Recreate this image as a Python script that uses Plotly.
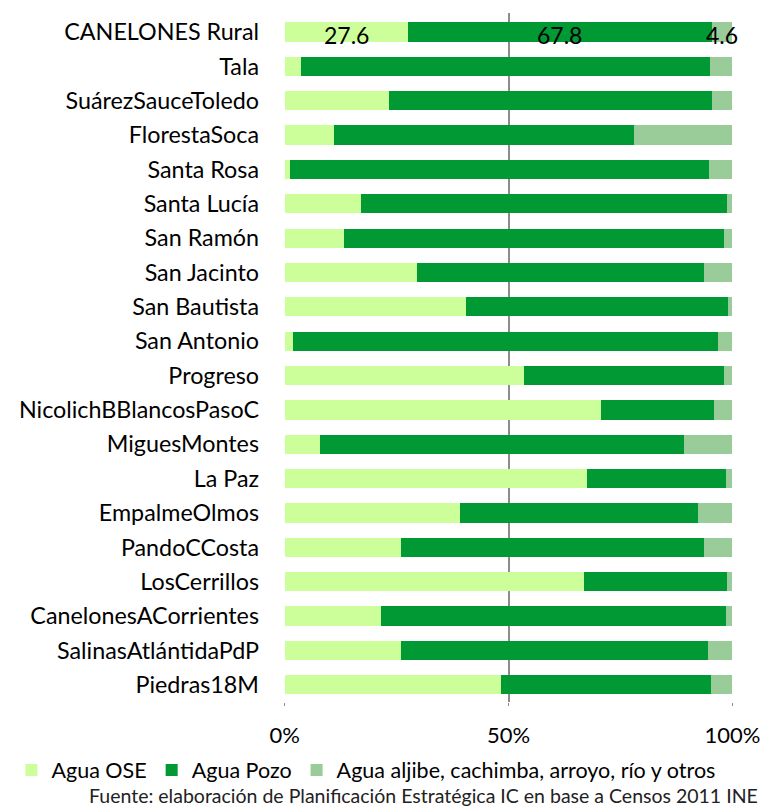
import plotly.graph_objects as go

categories = ["CANELONES Rural", "Tala", "SuárezSauceToledo", "FlorestaSoca", "Santa Rosa",
              "Santa Lucía", "San Ramón", "San Jacinto", "San Bautista", "San Antonio",
              "Progreso", "NicolichBBlancosPasoC", "MiguesMontes", "La Paz", "EmpalmeOlmos",
              "PandoCCosta", "LosCerrillos", "CanelonesACorrientes", "SalinasAtlántidaPdP", "Piedras18M"]
agua_ose = [27.6, 3.6, 23.2, 11.0, 1.1, 17.1, 13.3, 29.6, 40.4, 1.8,
            53.5, 70.6, 8.0, 67.6, 39.1, 26.0, 66.8, 21.5, 25.9, 48.4]
agua_pozo = [67.8, 91.4, 72.3, 67.1, 93.7, 81.7, 84.8, 64.1, 58.6, 94.9,
             44.6, 25.2, 81.2, 30.9, 53.2, 67.7, 31.9, 77.0, 68.6, 46.8]
agua_otros = [4.6, 5.0, 4.5, 21.9, 5.2, 1.2, 1.9, 6.3, 1.0, 3.3,
              1.9, 4.2, 10.8, 1.5, 7.7, 6.3, 1.3, 1.5, 5.5, 4.8]
series_names = ["Agua OSE", "Agua Pozo", "Agua aljibe, cachimba, arroyo, río y otros"]
colors = ["#CCFF99", "#009933", "#99CC99"]
x_ticks = [0, 50, 100]
x_tick_labels = ["0%", "50%", "100%"]
source_text = "Fuente: elaboración de Planificación Estratégica IC en base a Censos 2011 INE"

FONT = "Lato"
fig = go.Figure()
for name, vals, col in zip(series_names, [agua_ose, agua_pozo, agua_otros], colors):
    fig.add_trace(go.Bar(y=categories, x=vals, name=name, orientation="h",
                         marker=dict(color=col, line=dict(width=0))))

# data labels for first row only
cum = 0
for vals in [agua_ose, agua_pozo, agua_otros]:
    v = vals[0]
    fig.add_annotation(x=cum + v / 2, y=categories[0], text=f"{v:.1f}", showarrow=False,
                       yshift=-3, font=dict(family=FONT, size=23, color="#000000"))
    cum += v

fig.add_annotation(xref="paper", yref="paper", x=1.060, y=-0.135,
                   xanchor="right", yanchor="middle",
                   text=source_text, showarrow=False, font=dict(family=FONT, size=19.5, color="#222222"))

fig.update_layout(
    width=765, height=808, barmode="stack", bargap=0.44,
    margin=dict(l=284, r=32, t=13, b=106),
    plot_bgcolor="white", paper_bgcolor="white",
    font=dict(family=FONT, size=23, color="#000000"),
    showlegend=True,
    legend=dict(orientation="h", xref="paper", yref="paper", x=-0.607, y=-0.0987,
                xanchor="left", yanchor="middle", font=dict(size=21.5), itemwidth=30,
                tracegroupgap=0, traceorder="normal"),
    xaxis=dict(range=[-0.15, 100.15], tickvals=x_ticks, ticktext=x_tick_labels,
               showgrid=True, gridcolor="#8C8C8C", gridwidth=1.5, zeroline=False,
               showline=False, ticks="outside", ticklen=3, tickcolor="#8C8C8C",
               ticklabelstandoff=11, tickfont=dict(size=22), automargin=False),
    yaxis=dict(autorange="reversed", showgrid=False, showline=False, ticks="",
               ticklabelstandoff=24, tickfont=dict(size=23.3), automargin=False),
)
fig.write_html("out.html", config={"displayModeBar": False},
               post_script="document.body.style.margin='0';")
